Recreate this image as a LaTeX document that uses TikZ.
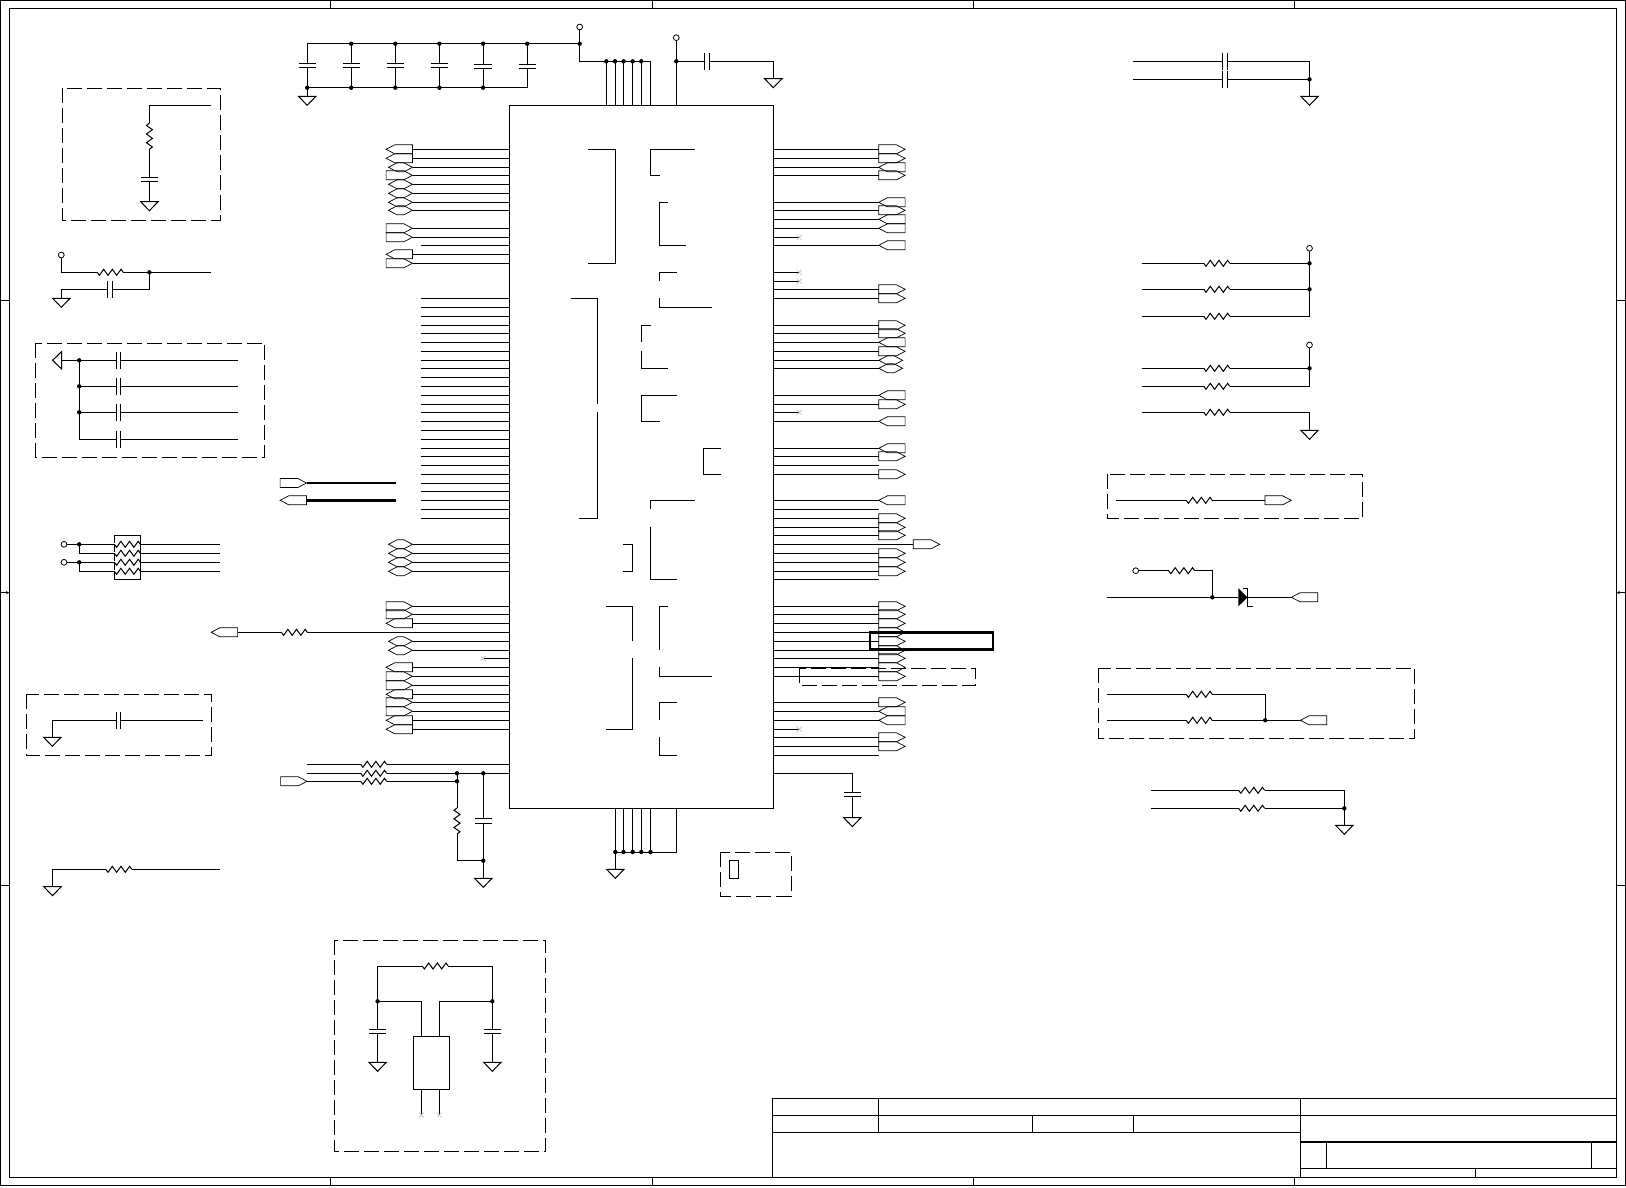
\documentclass[tikz,border=0pt]{standalone}
\usetikzlibrary{shapes.symbols}
\tikzset{
  tagr/.style={draw,line width=.7pt,signal,signal to=east,signal pointer angle=55,minimum width=26.4pt,minimum height=9pt,inner sep=0pt,outer sep=0pt},
  tagl/.style={tagr,signal to=west},
  tagb/.style={tagr,signal to=east and west,minimum width=24pt},
  dbox/.style={dash pattern=on 15pt off 5pt},
  res/.pic={\fill[white] (-13,-1) rectangle (13,1); \draw (-13,0)--(-10.8,3)--(-6.5,-3)--(-2.2,3)--(2.2,-3)--(6.5,3)--(10.8,-3)--(13,0);},
  cap/.pic={\fill[white] (-2.3,-1) rectangle (2.3,1); \draw (-2.3,-8.7)--(-2.3,8.7) (2.3,-8.7)--(2.3,8.7);},
  gnd/.pic={\draw (-8.7,0)--(8.7,0)--(0,9)--cycle;},
  nc/.pic={\draw[gray!50,line width=.6pt] (-2.5,-2.5)--(2.5,2.5) (-2.5,2.5)--(2.5,-2.5);},
  opn/.pic={\draw[fill=white,line width=.8pt] (0,0) circle (2.9);}
}
\newcommand{\jdot}[1]{\fill (#1) circle (2.2pt);}
\begin{document}
\begin{tikzpicture}[x=1pt,y=-1pt,line width=1pt]
\useasboundingbox (0,0) rectangle (1626,1187);
% sheet frame
\draw (.5,.5) rectangle (1625.5,1185.3); \draw (9.3,8.3) rectangle (1616.5,1177.3);
\foreach \x in {330.6,652.7,973.3,1294.6} {\draw[line width=.5pt] (\x,.5)--(\x,8.3); \draw[line width=.5pt] (\x,1177.3)--(\x,1185.3);}
\foreach \y in {300.3,885.3} {\draw[line width=.5pt] (.5,\y)--(9.3,\y); \draw[line width=.5pt] (1616.5,\y)--(1625.5,\y);}
\draw[line width=.5pt,-stealth] (.5,592.7)--(9.3,592.7); \draw[line width=.5pt,-stealth] (1625.5,592.7)--(1616.5,592.7);
% title block
\draw (772.7,1177.3)--(772.7,1098.3)--(1616.5,1098.3) (772.7,1115.3)--(1616.5,1115.3) (772.7,1132.3)--(1300.9,1132.3) (1300.9,1098.3)--(1300.9,1177.3);
\draw[line width=.6pt] (878.2,1098.3)--(878.2,1132.3); \draw (1032.4,1115.3)--(1032.4,1132.3) (1133,1115.3)--(1133,1132.3);
\draw[line width=1.6pt] (1300.9,1141.7)--(1616.5,1141.7); \draw (1326.8,1141.7)--(1326.8,1168.3) (1591,1141.7)--(1591,1168.3) (1300.9,1168.3)--(1616.5,1168.3); \draw[line width=.6pt] (1475.5,1168.3)--(1475.5,1177.3);

% main chip
\node[draw,minimum width=264pt,minimum height=703pt,inner sep=0pt,outer sep=0pt] (mcu) at (641.3,456.8) {};
\foreach \y/\k in {149.3/tagl,158.3/tagl,167.3/tagb,175.3/tagr,184.3/tagb,193.3/tagb,202.3/tagb,210.3/tagb,228.3/tagr,237.3/tagr,254.3/tagl,263.3/tagr,544.3/tagb,553.3/tagb,562.3/tagb,571.3/tagb,606.3/tagr,614.3/tagr,623.3/tagl,641.3/tagb,650.3/tagb,667.3/tagl,676.3/tagr,685.3/tagr,694.3/tagl,702.3/tagr,711.3/tagr,720.3/tagl,729.3/tagl}
  {\node[\k,anchor=east] (t) at (412.5,\y) {}; \draw (t.east)--(mcu.west |- t.east);}
\foreach \y in {245.3,298.3,307.3,316.3,325.3,333.3,342.3,351.3,360.3,368.3,377.3,386.3,395.3,404.3,412.3,421.3,430.3,439.3,448.3,456.3,465.3,474.3,483,491.3,500.3,509.3,518.3}
  {\coordinate (e) at (421.3,\y); \draw (e)--(mcu.west |- e);}
\coordinate (e) at (483.3,658.3); \draw (e)--(mcu.west |- e); \pic at (e) {nc};
\foreach \y/\k in {149.3/tagr,158.3/tagr,167.3/tagl,175.3/tagr,202.3/tagl,210.3/tagr,219.3/tagl,228.3/tagl,245.3/tagl,289.3/tagr,298.3/tagr,325.3/tagr,333.3/tagr,342.3/tagl,351.3/tagr,360.3/tagb,368.3/tagb,395.3/tagl,404.3/tagr,421.3/tagl,448.3/tagl,456.3/tagr,474.3/tagr,500.3/tagl,518.3/tagr,527.3/tagr,535.3/tagr,553.3/tagr,562.3/tagr,571.3/tagr,606.3/tagr,614.3/tagr,623.3/tagr,632.3/tagr,641.3/tagr,650.3/tagr,658.3/tagr,667.3/tagr,676.3/tagr,702.3/tagr,711.3/tagl,720.3/tagl,737.3/tagr,746.3/tagr}
  {\node[\k,anchor=west] (t) at (878.7,\y) {}; \draw (t.west)--(mcu.east |- t.west);}
\foreach \y in {465.3,509.3,579.3,755.3} {\coordinate (e) at (878.7,\y); \draw (e)--(mcu.east |- e);}
\foreach \y in {237.3,272.3,281.3,412.3,729.3} {\coordinate (e) at (799.3,\y); \draw (e)--(mcu.east |- e); \pic at (e) {nc};}
\node[tagr,anchor=west] (t) at (913.3,544.3) {}; \draw (t.west)--(mcu.east |- t.west);
\draw[line width=2.6pt] (870,632.3) rectangle (993,649.7);
\draw[dbox] (799.3,668.3) rectangle (975.7,685.3);

% pin brackets inside the chip
\draw (588,149.3)--(615.7,149.3)--(615.7,263.3)--(588,263.3);
\draw (694.7,149.3)--(650.3,149.3)--(650.3,175.3)--(659.7,175.3);
\draw (667.7,202.3)--(659.3,202.3)--(659.3,245.3)--(685.7,245.3);
\draw (677,272.3)--(659.3,272.3)--(659.3,281.3); \draw (659.3,298.3)--(659.3,307.3)--(712,307.3);
\draw (571,298.3)--(597.7,298.3)--(597.7,404); \draw (597.7,411.7)--(597.7,518.3)--(579.3,518.3);
\draw (650.7,325.3)--(641.3,325.3)--(641.3,342.3); \draw (641.3,351.3)--(641.3,368.3)--(667.7,368.3);
\draw (677,395.3)--(641.3,395.3)--(641.3,421.3)--(659.7,421.3);
\draw (720.7,448.3)--(703.3,448.3)--(703.3,474.3)--(720.7,474.3);
\draw (694.7,500.3)--(650.3,500.3)--(650.3,509.3); \draw (650.3,526.7)--(650.3,579.3)--(677,579.3);
\draw (623.3,544.3)--(632.7,544.3)--(632.7,571.3)--(623.3,571.3);
\draw (606,606.3)--(632.7,606.3)--(632.7,641.3); \draw (632.7,658.3)--(632.7,729.3)--(606,729.3);
\draw (667.7,606.3)--(659.3,606.3)--(659.3,650.3); \draw (659.3,667.3)--(659.3,676.3)--(712,676.3);
\draw (677,702.3)--(659.3,702.3)--(659.3,720.3); \draw (659.3,737.3)--(659.3,755.3)--(677,755.3);

% power pins, top
\draw (307.2,96.3)--(307.2,43.7)--(579.7,43.7)--(579.7,61.3)--(650.3,61.3) (579.7,43.7)--(579.7,29) (307.2,87.7)--(527.2,87.7);
\foreach \x/\p in {307.2/63.3,351.2/63.3,395.3/63.3,439.4/63.3,483.1/64.3,527.2/64.3} {\draw (\x,43.7)--(\x,87.7); \pic[rotate=90] at (\x,\p+2.2) {cap};}
\foreach \x in {351.2,395.3,439.4,483.1,527.2,579.7} {\jdot{\x,43.7}} \foreach \x in {307.2,351.2,395.3,439.4,483.1} {\jdot{\x,87.7}}
\pic at (307.2,96.3) {gnd}; \pic at (579.7,27) {opn};
\foreach \x in {606.3,615,623.7,632.7,641.3,650.3} {\coordinate (e) at (\x,61.3); \draw (e)--(mcu.north -| e);}
\foreach \x in {606.3,615,623.7,632.7,641.3} {\jdot{\x,61.3}}
\coordinate (e) at (676.3,37.7); \draw (e)--(mcu.north -| e); \jdot{676.3,61.3}; \pic at (676.3,37.7) {opn};
\draw (676.3,61.3)--(773.3,61.3)--(773.3,78.7); \pic at (706.7,61.3) {cap}; \pic at (773.3,78.7) {gnd};

% power pins, bottom
\foreach \x in {615.3,623.5,632.7,641.3,650.5,676.5} {\coordinate (e) at (\x,852); \draw (e)--(mcu.south -| e);}
\draw (615.3,869.3)--(615.3,852)--(676.5,852); \foreach \x in {615.3,623.5,632.7,641.3,650.5} {\jdot{\x,852}}
\pic at (615.3,869.3) {gnd};
\coordinate (e) at (852.3,773.3); \draw (mcu.east |- e)--(e)--(852.3,817.6); \pic[rotate=90] at (852.3,794.5) {cap}; \pic at (852.3,817.6) {gnd};

% left column
\draw[dbox] (62.7,88.3) rectangle (220.4,220.3);
\draw (211,105.3)--(149.4,105.3)--(149.4,201.7); \pic[rotate=90] at (149.4,136.2) {res}; \pic[rotate=90] at (149.4,179.3) {cap}; \pic at (149.4,201.7) {gnd};
\draw (61.3,257)--(61.3,272.3)--(211,272.3) (149.4,272.3)--(149.4,289.3)--(61.3,289.3)--(61.3,298.3);
\pic at (110.2,272.3) {res}; \pic at (110.2,289.3) {cap}; \pic at (61.3,298.3) {gnd}; \pic at (61.3,255) {opn}; \jdot{149.4,272.3}
\draw[dbox] (35.5,343.3) rectangle (264.5,457.3);
\draw (61.6,360.3)--(237.6,360.3) (79.2,386.3)--(237.6,386.3) (79.2,412.3)--(237.6,412.3) (79.2,360.3)--(79.2,439.3)--(237.6,439.3);
\foreach \y in {360.3,386.3,412.3,439.3} {\pic at (118.5,\y) {cap};} \foreach \y in {360.3,386.3,412.3} {\jdot{79.2,\y}}
\pic[rotate=-90] at (61.6,360.3) {gnd};
\node[tagr,anchor=east] (bo) at (306.5,483) {}; \draw[line width=2.4pt] (bo.east)--(396,483);
\node[tagl,anchor=east] (bi) at (306.5,500.3) {}; \draw[line width=3.2pt] (bi.east)--(396,500.3);
\draw (66.6,544.3)--(219.7,544.3) (79.2,544.3)--(79.2,553.3)--(219.7,553.3) (66.6,562.3)--(219.7,562.3) (79.2,562.3)--(79.2,571.3)--(219.7,571.3);
\node[draw,fill=white,minimum width=26.2pt,minimum height=44pt,inner sep=0pt] (rn) at (127.4,557.3) {};
\foreach \y in {544.3,553.3,562.3,571.3} {\pic at (127.4,\y) {res};} \jdot{79.2,544.3} \jdot{79.2,562.3}
\pic at (64,544.3) {opn}; \pic at (64,562.3) {opn};
\node[tagl,anchor=east] (t) at (237.6,632.3) {}; \draw (t.east)--(mcu.west |- t.east); \pic at (294.4,632.3) {res};
\draw[dbox] (26.2,694.3) rectangle (211.4,755.3);
\draw (52.3,737.3)--(52.3,720.3)--(202.5,720.3); \pic at (118.5,720.3) {cap}; \pic at (52.3,737.3) {gnd};
\draw (52.5,886.7)--(52.5,869.3)--(219.9,869.3); \pic at (118.8,869.3) {res}; \pic at (52.5,886.7) {gnd};

% clock inputs
\coordinate (e) at (307,764.3); \draw (e)--(mcu.west |- e); \coordinate (e) at (307,773.3); \draw (e)--(mcu.west |- e);
\node[tagr,anchor=east] (t) at (307,781.3) {}; \draw (t.east)--(457,781.3) (457,773.3)--(457,860.7)--(483.3,860.7) (483.3,773.3)--(483.3,878.3);
\foreach \y in {764.3,773.3,781.3} {\pic at (373.7,\y) {res};}
\pic[rotate=90] at (457,821) {res}; \pic[rotate=90] at (483.3,820.9) {cap}; \pic at (483.3,878.3) {gnd};
\jdot{457,773.3} \jdot{457,781.3} \jdot{483.3,773.3} \jdot{483.3,860.7}

% crystal
\draw[dbox] (334.7,940.3) rectangle (545.4,1151.3);
\node[draw,minimum width=35.7pt,minimum height=53.4pt,inner sep=0pt,outer sep=0pt] (xtal) at (431.2,1063) {};
\draw (377.6,1062.3)--(377.6,966)--(492.3,966)--(492.3,1062.3) (377.6,1001.3)--(421.4,1001.3)--(421.4,1036.3) (492.3,1001.3)--(439.3,1001.3)--(439.3,1036.3);
\foreach \x in {421.4,439.3} {\coordinate (e) at (\x,1115); \draw (e)--(xtal.south -| e); \pic at (e) {nc};}
\pic at (435.2,966) {res}; \jdot{377.6,1001.3} \jdot{492.3,1001.3}
\foreach \x in {377.6,492.3} {\pic[rotate=90] at (\x,1031.3) {cap}; \pic at (\x,1062.3) {gnd};}
\draw[dbox] (720.4,852.3) rectangle (791.3,896.3); \node[draw,minimum width=9.2pt,minimum height=18.4pt,inner sep=0pt] (sw) at (734.2,869.5) {};

% right column
\draw (1133,61.3)--(1309.5,61.3)--(1309.5,96.3) (1133,79.3)--(1309.5,79.3); \pic at (1225.2,61.3) {cap}; \pic at (1225.2,79.3) {cap}; \jdot{1309.5,79.3} \pic at (1309.5,96.3) {gnd};
\foreach \y in {263.3,289.3,316.3,368.3,386.3,412.3} {\draw (1141.6,\y)--(1309.5,\y); \pic at (1216.8,\y) {res};}
\draw (1309.5,248.3)--(1309.5,316.3) (1309.5,345)--(1309.5,386.3) (1309.5,412.3)--(1309.5,430.3);
\jdot{1309.5,263.3} \jdot{1309.5,289.3} \jdot{1309.5,368.3} \pic at (1309.5,248.3) {opn}; \pic at (1309.5,345) {opn}; \pic at (1309.5,430.3) {gnd};
\draw[dbox] (1107.5,474.3) rectangle (1362.4,518.3);
\node[tagr,anchor=west] (t) at (1264.9,500.3) {}; \coordinate (e) at (1115.5,500.3); \draw (e)--(t.west); \pic at (1199.2,500.3) {res};
\draw (1135.7,570.7)--(1212.3,570.7)--(1212.3,597.3) (1107.2,597.3)--(1238.4,597.3); \pic at (1181.7,570.7) {res}; \jdot{1212.3,597.3} \pic at (1135.7,570.7) {opn};
\node[tagl,anchor=west] (t) at (1291.4,597.3) {}; \draw (1247.5,597.3)--(t.west);
\fill (1238.4,588.3)--(1247.5,597.3)--(1238.4,606.3)--cycle; \draw[line width=.7pt] (1243,588.3)--(1247.5,588.3)--(1247.5,606)--(1252.7,606);
\draw[dbox] (1098.5,668.3) rectangle (1414.6,738.3);
\node[tagl,anchor=west] (t) at (1300.4,720.3) {}; \coordinate (e) at (1107.2,720.3); \draw (e)--(t.west) (1107.2,694.3)--(1265.2,694.3)--(1265.2,720.3); \jdot{1265.2,720.3}
\pic at (1199.2,694.3) {res}; \pic at (1199.2,720.3) {res};
\draw (1150.7,790.3)--(1344.3,790.3)--(1344.3,825.3) (1150.7,808.3)--(1344.3,808.3); \pic at (1251.6,790.3) {res}; \pic at (1251.6,808.3) {res}; \jdot{1344.3,808.3} \pic at (1344.3,825.3) {gnd};
\end{tikzpicture}
\end{document}
